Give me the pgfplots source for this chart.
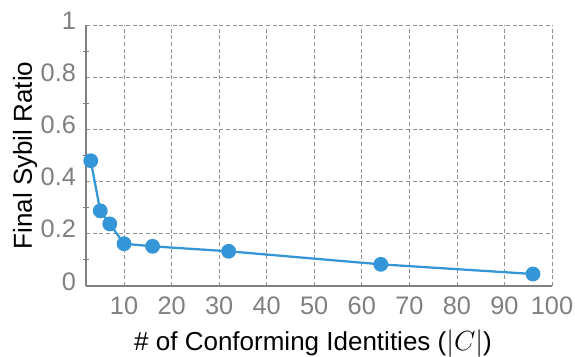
\documentclass[border=0pt]{standalone}
\usepackage{pgfplots}
\pgfplotsset{compat=1.18}
\usepackage{fontspec}
\setmainfont{Liberation Sans}
\definecolor{lineblue}{RGB}{52,150,214}
\definecolor{tickgray}{RGB}{128,128,128}
\definecolor{gridgray}{RGB}{145,145,145}
\begin{document}
\begin{tikzpicture}
\begin{axis}[
  scale only axis,
  width=349.5pt, height=195.75pt,
  xmin=2, xmax=100, ymin=0, ymax=1,
  xtick={10,20,...,100},
  ytick={0,0.2,...,1},
  yticklabels={0,0.2,0.4,0.6,0.8,1},
  minor ytick={0.1,0.3,0.5,0.7,0.9},
  axis x line=bottom, axis y line=left,
  axis line style={-, draw=tickgray, line width=0.9pt},
  major tick length=0pt,
  minor tick length=4pt,
  minor tick style={draw=tickgray, line width=0.8pt},
  xmajorgrids, ymajorgrids,
  grid style={dash pattern=on 3pt off 2pt, draw=gridgray, line width=0.6pt},
  tick label style={font=\fontsize{19}{21}\selectfont, text=tickgray},
  /pgf/number format/assume math mode=true,
  xticklabel style={yshift=-4.5pt},
  yticklabel style={xshift=-4pt, yshift=3.4pt},
  label style={font=\fontsize{19.5}{22}\selectfont},
  xlabel={\# of Conforming Identities ($|C|$)},
  ylabel={Final Sybil Ratio},
  xlabel style={at={([xshift=-4.5pt,yshift=-48pt]axis description cs:0.5,0)}, anchor=base},
  ylabel style={at={([xshift=-40.5pt]axis description cs:0,0.5)}, anchor=base},
  clip=false,
]
\addplot[color=lineblue, line width=1.7pt, mark=*, mark size=4.7pt, mark options={fill=lineblue, draw=lineblue}]
coordinates {
(3,0.48) (5,0.288) (7,0.238) (10,0.162) (16,0.152) (32,0.133) (64,0.083) (96,0.046)
};
\end{axis}
\pgfresetboundingbox
\path[use as bounding box] ([shift={(-64.5pt,-52.5pt)}]current axis.south west) rectangle ([shift={(17.25pt,18.75pt)}]current axis.north east);
\end{tikzpicture}
\end{document}
